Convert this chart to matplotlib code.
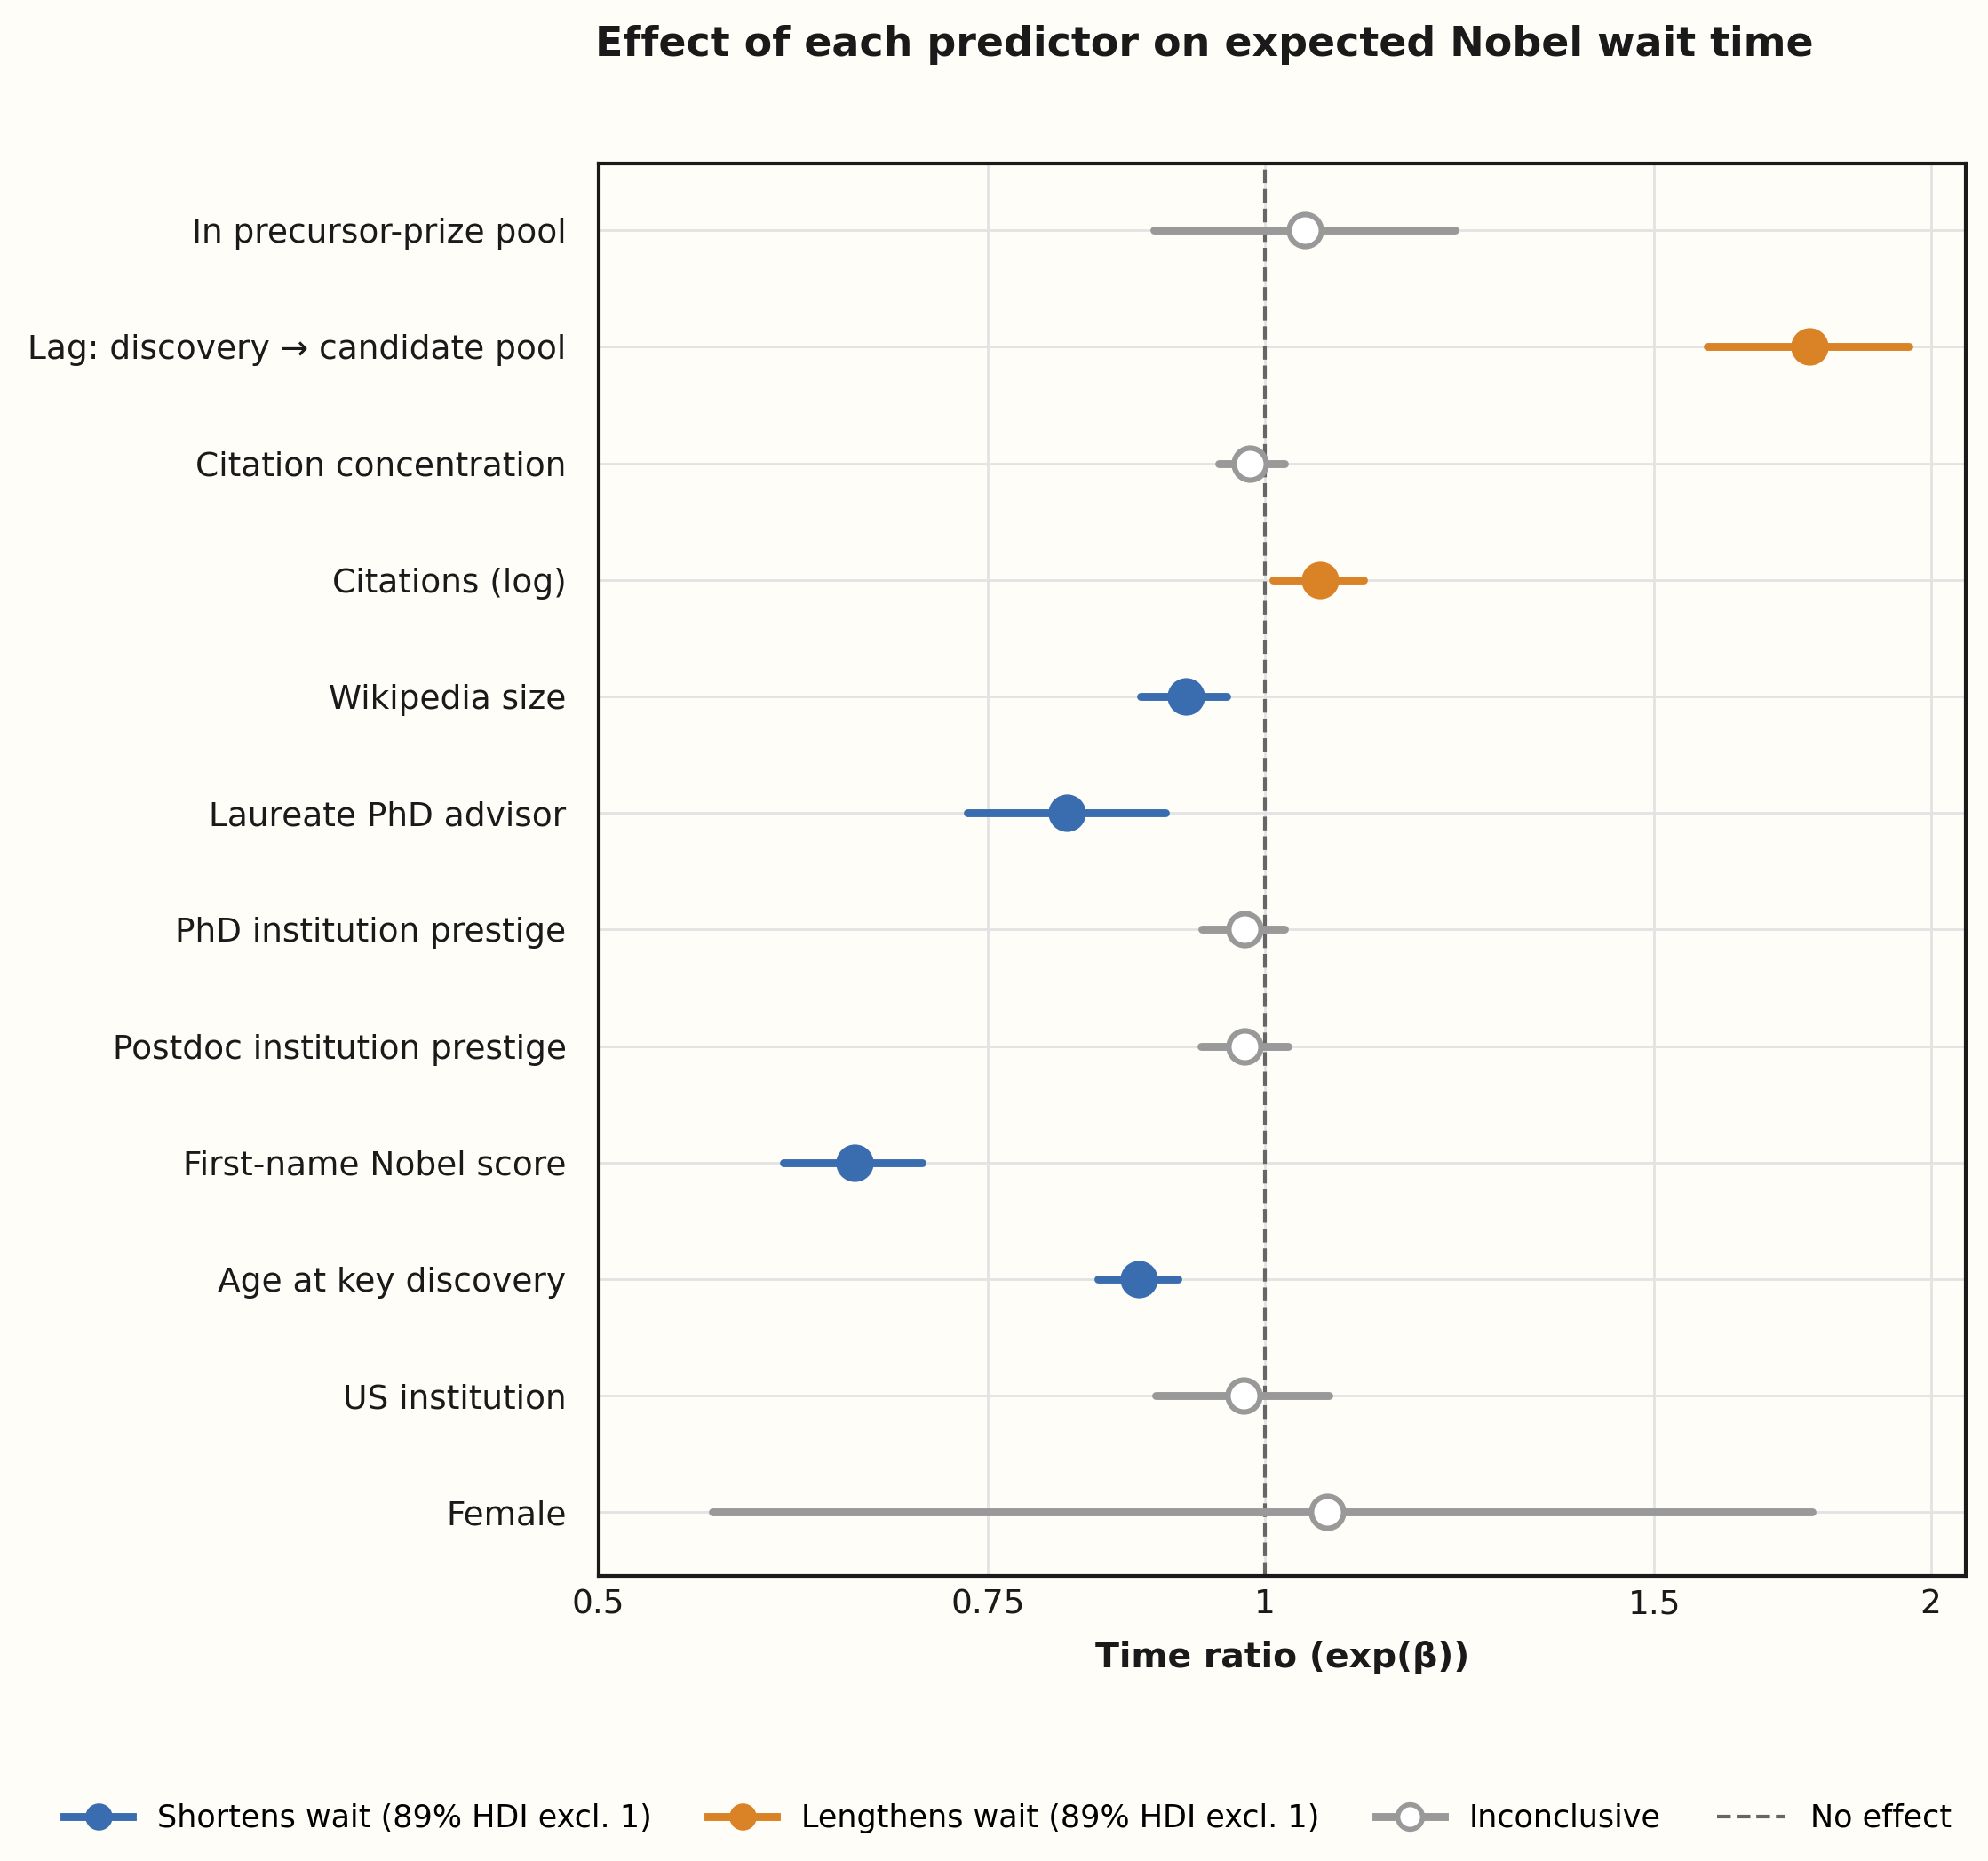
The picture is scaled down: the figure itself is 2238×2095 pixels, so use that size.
import numpy as np
import matplotlib
matplotlib.use("Agg")
import matplotlib.pyplot as plt
from matplotlib.lines import Line2D
from matplotlib.ticker import FixedLocator, NullLocator

# -------- Data --------
predictors = [
    "In precursor-prize pool",
    "Lag: discovery \u2192 candidate pool",
    "Citation concentration",
    "Citations (log)",
    "Wikipedia size",
    "Laureate PhD advisor",
    "PhD institution prestige",
    "Postdoc institution prestige",
    "First-name Nobel score",
    "Age at key discovery",
    "US institution",
    "Female",
]
ratio_mean = [1.043, 1.763, 0.985, 1.059, 0.921, 0.814, 0.979, 0.979, 0.653, 0.877, 0.978, 1.067]
hdi_low = [0.891, 1.585, 0.953, 1.009, 0.879, 0.734, 0.937, 0.936, 0.606, 0.841, 0.893, 0.563]
hdi_high = [1.219, 1.955, 1.021, 1.108, 0.961, 0.902, 1.021, 1.025, 0.700, 0.914, 1.069, 1.768]

tick_values = [0.5, 0.75, 1, 1.5, 2]
tick_labels = ["0.5", "0.75", "1", "1.5", "2"]

BLUE = "#3a6db0"
ORANGE = "#d98326"
GRAY = "#999999"
BG = "#fffdf8"

plt.rcParams["font.family"] = ["DejaVu Sans"]

fig = plt.figure(figsize=(11.19, 10.475), dpi=200, facecolor=BG)
ax = fig.add_axes([0.301, 0.153, 0.688, 0.759])
ax.set_facecolor(BG)

y = np.arange(len(predictors))

for yi, m, lo, hi in zip(y, ratio_mean, hdi_low, hdi_high):
    if hi < 1:
        col, face = BLUE, BLUE
    elif lo > 1:
        col, face = ORANGE, ORANGE
    else:
        col, face = GRAY, "white"
    ax.plot([lo, hi], [yi, yi], color=col, lw=3.2, solid_capstyle="round", zorder=3)
    ax.plot(m, yi, "o", ms=13, mfc=face, mec=col, mew=2.2, zorder=4)

ax.axvline(1, color="#666666", ls="--", lw=1.5, zorder=2)

ax.set_xscale("log")
ax.set_xlim(0.5, 2.075)
ax.xaxis.set_major_locator(FixedLocator(tick_values))
ax.xaxis.set_minor_locator(NullLocator())
ax.set_xticklabels(tick_labels)

ax.set_yticks(y)
ax.set_yticklabels(predictors)
ax.set_ylim(len(predictors) - 0.45, -0.57)

ax.grid(True, color="#e3e3e3", lw=1.0, zorder=0)
ax.set_axisbelow(True)
ax.tick_params(axis="both", length=0, labelsize=13.5, colors="#1a1a1a")
ax.tick_params(axis="y", pad=13)
ax.tick_params(axis="x", pad=5)
for s in ax.spines.values():
    s.set_color("#1a1a1a")
    s.set_linewidth(1.5)

ax.set_xlabel("Time ratio (exp(\u03b2))", fontsize=14.2, fontweight="bold", labelpad=8, color="#1a1a1a")

fig.text(0.606, 0.976, "Effect of each predictor on expected Nobel wait time",
         ha="center", va="center", fontsize=16.5, fontweight="bold", color="#1a1a1a")

handles = [
    Line2D([0], [0], color=BLUE, lw=3.2, marker="o", ms=10, mfc=BLUE, mec=BLUE),
    Line2D([0], [0], color=ORANGE, lw=3.2, marker="o", ms=10, mfc=ORANGE, mec=ORANGE),
    Line2D([0], [0], color=GRAY, lw=3.2, marker="o", ms=10, mfc="white", mec=GRAY, mew=2),
    Line2D([0], [0], color="#666666", lw=1.5, ls="--"),
]
labels = ["Shortens wait (89% HDI excl. 1)", "Lengthens wait (89% HDI excl. 1)",
          "Inconclusive", "No effect"]
fig.legend(handles, labels, loc="center", bbox_to_anchor=(0.507, 0.023), ncol=4,
           frameon=False, fontsize=12.6, handlelength=2.2, columnspacing=1.8)

fig.savefig("out.png", dpi=200, facecolor=BG)
